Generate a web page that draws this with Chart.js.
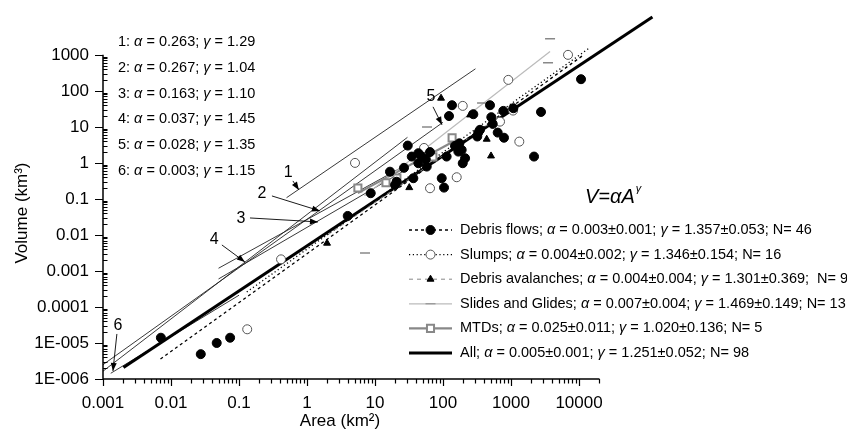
<!DOCTYPE html>
<html>
<head>
<meta charset="utf-8">
<script src="https://cdn.jsdelivr.net/npm/chart.js@4.4.0/dist/chart.umd.min.js"></script>
<style>
html, body { margin: 0; padding: 0; background: #fff; }
#wrap { width: 847px; height: 430px; }
</style>
</head>
<body>
<div id="wrap"><canvas id="myChart" width="847" height="430"></canvas></div>
<script>
// tick labels
var xTickLabels = ['0.001', '0.01', '0.1', '1', '10', '100', '1000', '10000'];
var yTickLabels = ['1E-006', '1E-005', '0.0001', '0.001', '0.01', '0.1', '1', '10', '100', '1000'];

// Debris flows (filled circles), area km2 / volume km3
var dfArea = [0.0071, 0.0274, 0.047, 0.074, 3.97, 8.65, 30.3, 16.6, 34.7, 43.4, 48.6, 43.4, 55.7, 57.6, 20.8, 19.7, 36.6, 95.7, 103.5, 113, 135.5, 122.5, 279, 491, 174, 188, 168, 211, 195, 319, 330, 538, 513, 637, 788, 770, 1082, 2760, 2180, 10700, 350, 26.7, 64.4, 150];
var dfVolume = [1.4e-5, 4.9e-6, 1.0e-5, 1.4e-5, 0.0337, 0.144, 3.03, 0.57, 1.5, 1.86, 1.5, 0.98, 1.27, 0.79, 0.30, 0.245, 0.376, 0.376, 0.206, 1.5, 40, 20, 22.5, 40, 3.5, 2.3, 2.06, 1.35, 0.98, 5.4, 6.95, 12.1, 18.6, 6.95, 5.0, 27.8, 33, 26, 1.5, 211, 8.3, 0.73, 2.0, 2.97];

// Slumps (open circles)
var slArea = [0.132, 0.415, 5.08, 52.6, 64.4, 159, 195, 689, 912, 1324, 6890, 1072];
var slVolume = [2.4e-5, 0.0021, 1.0, 2.6, 0.198, 0.40, 38.3, 14, 202, 3.9, 1000, 28.4];

// Debris avalanches (triangles)
var daArea = [93.5, 250, 439, 508, 31.9, 1.97];
var daVolume = [62.7, 21.5, 4.55, 1.56, 0.206, 0.0059];

// Slides and glides (dashes)
var sgArea = [3750, 3500, 375, 58.2, 7.13];
var sgVolume = [2780, 600, 46.4, 10, 0.00316];

// MTDs (squares)
var mtdArea = [5.6, 14.5, 21, 71, 136];
var mtdVolume = [0.20, 0.28, 0.38, 1.47, 4.95];

// fitted relations V = aA^g
var fitNames = ['Debris flows', 'Slumps', 'Debris avalanches', 'Slides and Glides', 'MTDs', 'All'];
var fitAlpha = [0.003, 0.004, 0.004, 0.007, 0.025, 0.005];
var fitAlphaErr = [0.001, 0.002, 0.004, 0.004, 0.011, 0.001];
var fitGamma = [1.357, 1.346, 1.301, 1.469, 1.020, 1.251];
var fitGammaErr = [0.053, 0.154, 0.369, 0.149, 0.136, 0.052];
var fitN = [46, 16, 9, 13, 5, 98];
// ends of each fitted line
var fitLineArea = [[0.007, 12000], [0.13, 14000], [2, 500], [7, 3750], [5.6, 136], [0.002, 120000]];
var fitLineVolume = [[3.6e-6, 1030], [2.6e-4, 1520], [0.0099, 13], [0.122, 1245], [0.145, 3.76], [2.1e-6, 11300]];

// published relations 1..6
var relAlpha = [0.263, 0.267, 0.163, 0.037, 0.028, 0.003];
var relGamma = [1.29, 1.04, 1.10, 1.45, 1.35, 1.15];
var relLineArea = [[0.5, 300], [0.05, 30], [0.05, 30], [0.001, 30], [0.001, 100], [0.0013, 0.1]];
var relLineVolume = [[0.108, 410], [0.00119, 0.92], [6.0e-4, 0.687], [1.65e-6, 5.13], [2.5e-6, 13.4], [1.44e-6, 2.12e-4]];

// numbered arrows (area, volume)
var arrowText = ['1', '2', '3', '4', '5', '6'];
var arrowLabelAt = [[0.53, 0.53], [0.218, 0.138], [0.107, 0.0278], [0.043, 0.00727], [66.7, 68], [0.00166, 2.97e-5]];
var arrowFrom = [[0.62, 0.316], [0.305, 0.121], [0.145, 0.0296], [0.056, 0.00527], [71.3, 36], [0.0016, 1.78e-5]];
var arrowTo = [[0.76, 0.178], [1.55, 0.0465], [1.45, 0.023], [0.122, 0.00178], [96.6, 11.4], [0.0014, 1.67e-6]];

var FONT = '"Liberation Sans", Arial, sans-serif';

function pts(xs, ys) {
    return xs.map(function(x, i) { return {x: x, y: ys[i]}; });
}

var fitStyles = [
    {color: '#000', width: 1.3, dash: [3, 3], point: 'circle', pbg: '#000', pborder: '#000', pr: 4.5},
    {color: '#000', width: 1.3, dash: [1.2, 2.6], point: 'circle', pbg: '#fff', pborder: '#555', pr: 4.5},
    {color: '#888', width: 1, dash: [4, 4], point: 'triangle', pbg: '#000', pborder: '#000', pr: 4},
    {color: '#bbb', width: 1.2, dash: [], point: 'line', pbg: '#888', pborder: '#888', pr: 5},
    {color: '#888', width: 2.2, dash: [], point: 'rect', pbg: '#fff', pborder: '#888', pr: 5},
    {color: '#000', width: 3, dash: [], point: false, pr: 0}
];

var datasets = [];
datasets.push({label: 'Debris flows', data: pts(dfArea, dfVolume), pointStyle: 'circle', pointRadius: 4.5, backgroundColor: '#000', borderColor: '#000', showLine: false});
datasets.push({label: 'Slumps', data: pts(slArea, slVolume), pointStyle: 'circle', pointRadius: 4.5, backgroundColor: '#fff', borderColor: '#555', borderWidth: 1, showLine: false});
datasets.push({label: 'Debris avalanches', data: pts(daArea, daVolume), pointStyle: 'triangle', pointRadius: 4, backgroundColor: '#000', borderColor: '#000', showLine: false});
datasets.push({label: 'Slides and Glides', data: pts(sgArea, sgVolume), pointStyle: 'line', pointRadius: 5, borderColor: '#888', borderWidth: 1.5, showLine: false});
datasets.push({label: 'MTDs', data: pts(mtdArea, mtdVolume), pointStyle: 'rect', pointRadius: 5, backgroundColor: '#fff', borderColor: '#888', borderWidth: 2, showLine: false});

fitNames.forEach(function(name, i) {
    var s = fitStyles[i];
    datasets.push({
        label: name + ' fit',
        data: pts(fitLineArea[i], fitLineVolume[i]),
        showLine: true, pointRadius: 0, borderColor: s.color, borderWidth: s.width,
        borderDash: s.dash, fill: false, order: 1
    });
});
relAlpha.forEach(function(a, i) {
    datasets.push({
        label: 'Relation ' + (i + 1),
        data: pts(relLineArea[i], relLineVolume[i]),
        showLine: true, pointRadius: 0, borderColor: '#222', borderWidth: 0.9, fill: false, order: 1
    });
});

function drawRich(ctx, parts, x, y, size) {
    parts.forEach(function(p) {
        ctx.font = (p[1] ? 'italic ' : '') + size + 'px ' + FONT;
        ctx.fillText(p[0], x, y);
        x += ctx.measureText(p[0]).width;
    });
    return x;
}

function arrowHead(ctx, x0, y0, x1, y1) {
    var ang = Math.atan2(y1 - y0, x1 - x0), L = 8, W = 3;
    ctx.beginPath();
    ctx.moveTo(x1, y1);
    ctx.lineTo(x1 - L * Math.cos(ang) + W * Math.sin(ang), y1 - L * Math.sin(ang) - W * Math.cos(ang));
    ctx.lineTo(x1 - L * Math.cos(ang) - W * Math.sin(ang), y1 - L * Math.sin(ang) + W * Math.cos(ang));
    ctx.closePath();
    ctx.fill();
}

var decorations = {
    id: 'decorations',
    afterDatasetsDraw: function(chart) {
        var ctx = chart.ctx, xs = chart.scales.x, ys = chart.scales.y;
        var X = function(v) { return xs.getPixelForValue(v); };
        var Y = function(v) { return ys.getPixelForValue(v); };
        var x0 = X(0.001), x1 = X(20000), y0 = Y(1e-6), y1 = Y(1000);
        ctx.save();
        ctx.strokeStyle = '#000';
        ctx.fillStyle = '#000';
        ctx.lineWidth = 1.5;
        ctx.beginPath();
        ctx.moveTo(x0, y0); ctx.lineTo(x1, y0);
        ctx.moveTo(x0, y0); ctx.lineTo(x0, y1);
        ctx.stroke();

        // x ticks
        ctx.lineWidth = 1.2;
        ctx.beginPath();
        for (var e = -3; e <= 4; e++) {
            for (var m = 1; m <= 9; m++) {
                var v = m * Math.pow(10, e);
                if (v > 20000) break;
                var px = Math.round(X(v)) + 0.5;
                ctx.moveTo(px, y0);
                ctx.lineTo(px, y0 + (m === 1 ? 7 : 4.5));
            }
        }
        // y ticks
        for (var e2 = -6; e2 <= 3; e2++) {
            for (var m2 = 1; m2 <= 9; m2++) {
                var v2 = m2 * Math.pow(10, e2);
                if (v2 > 1000) break;
                var py = Math.round(Y(v2)) + 0.5;
                if (m2 === 1) { ctx.moveTo(x0 - 8, py); ctx.lineTo(x0, py); }
                else { ctx.moveTo(x0, py); ctx.lineTo(x0 + 4.5, py); }
            }
        }
        ctx.stroke();

        // tick labels
        ctx.font = '17px ' + FONT;
        ctx.textAlign = 'center';
        ctx.textBaseline = 'middle';
        xTickLabels.forEach(function(t) { ctx.fillText(t, X(parseFloat(t)), y0 + 24); });
        ctx.textAlign = 'right';
        yTickLabels.forEach(function(t) { ctx.fillText(t, x0 - 14, Y(parseFloat(t))); });

        // axis titles
        ctx.textAlign = 'center';
        ctx.font = '17px ' + FONT;
        ctx.fillText('Area (km\u00b2)', 340, 421);
        ctx.save();
        ctx.translate(22, 213);
        ctx.rotate(-Math.PI / 2);
        ctx.fillText('Volume (km\u00b3)', 0, 0);
        ctx.restore();

        // relation list
        ctx.textAlign = 'left';
        relAlpha.forEach(function(a, i) {
            drawRich(ctx, [[(i + 1) + ': ', false], ['\u03b1', true], [' = ' + a.toFixed(3) + '; ', false], ['\u03b3', true], [' = ' + relGamma[i].toFixed(2), false]], 118, 42 + i * 25.8, 14.5);
        });

        // numbered arrows
        ctx.lineWidth = 0.9;
        arrowText.forEach(function(t, i) {
            ctx.font = '16px ' + FONT;
            ctx.textAlign = 'center';
            ctx.fillText(t, X(arrowLabelAt[i][0]), Y(arrowLabelAt[i][1]));
            var ax = X(arrowFrom[i][0]), ay = Y(arrowFrom[i][1]);
            var bx = X(arrowTo[i][0]), by = Y(arrowTo[i][1]);
            ctx.beginPath(); ctx.moveTo(ax, ay); ctx.lineTo(bx, by); ctx.stroke();
            arrowHead(ctx, ax, ay, bx, by);
        });

        // equation
        ctx.textAlign = 'left';
        var ex = drawRich(ctx, [['V=\u03b1A', true]], 585, 197, 20);
        drawRich(ctx, [['\u03b3', true]], ex + 1, 189, 11);

        // legend
        fitNames.forEach(function(name, i) {
            var s = fitStyles[i], ly = 230 + i * 24.6;
            ctx.save();
            ctx.strokeStyle = s.color;
            ctx.lineWidth = s.width;
            ctx.setLineDash(s.dash);
            ctx.beginPath(); ctx.moveTo(409, ly); ctx.lineTo(452, ly); ctx.stroke();
            ctx.setLineDash([]);
            if (s.point) {
                ctx.fillStyle = s.pbg;
                ctx.strokeStyle = s.pborder;
                ctx.lineWidth = s.point === 'rect' ? 2 : 1;
                Chart.helpers.drawPoint(ctx, {pointStyle: s.point, radius: s.pr, rotation: 0, borderWidth: 1}, 430.5, ly);
            }
            ctx.restore();
            ctx.fillStyle = '#000';
            ctx.textBaseline = 'middle';
            // the avalanche row has a wider gap before N in the original
            var gap = name === 'Debris avalanches' ? '  ' : ' ';
            drawRich(ctx, [
                [name + '; ', false], ['\u03b1', true],
                [' = ' + fitAlpha[i].toFixed(3) + '\u00b1' + fitAlphaErr[i].toFixed(3) + '; ', false],
                ['\u03b3', true],
                [' = ' + fitGamma[i].toFixed(3) + '\u00b1' + fitGammaErr[i].toFixed(3) + ';' + gap + 'N= ' + fitN[i], false]
            ], 460, ly, 14.5);
        });
        ctx.restore();
    }
};

var ctx = document.getElementById('myChart').getContext('2d');
var chart = new Chart(ctx, {
    type: 'scatter',
    data: {datasets: datasets},
    options: {
        responsive: false,
        animation: false,
        devicePixelRatio: 1,
        layout: {padding: {left: 103, right: 179.5, top: 8, bottom: 51}},
        plugins: {legend: {display: false}, tooltip: {enabled: false}},
        scales: {
            x: {type: 'logarithmic', min: 0.001, max: 200000, display: false},
            y: {type: 'logarithmic', min: 1e-6, max: 20000, display: false}
        }
    },
    plugins: [decorations]
});
</script>
</body>
</html>
